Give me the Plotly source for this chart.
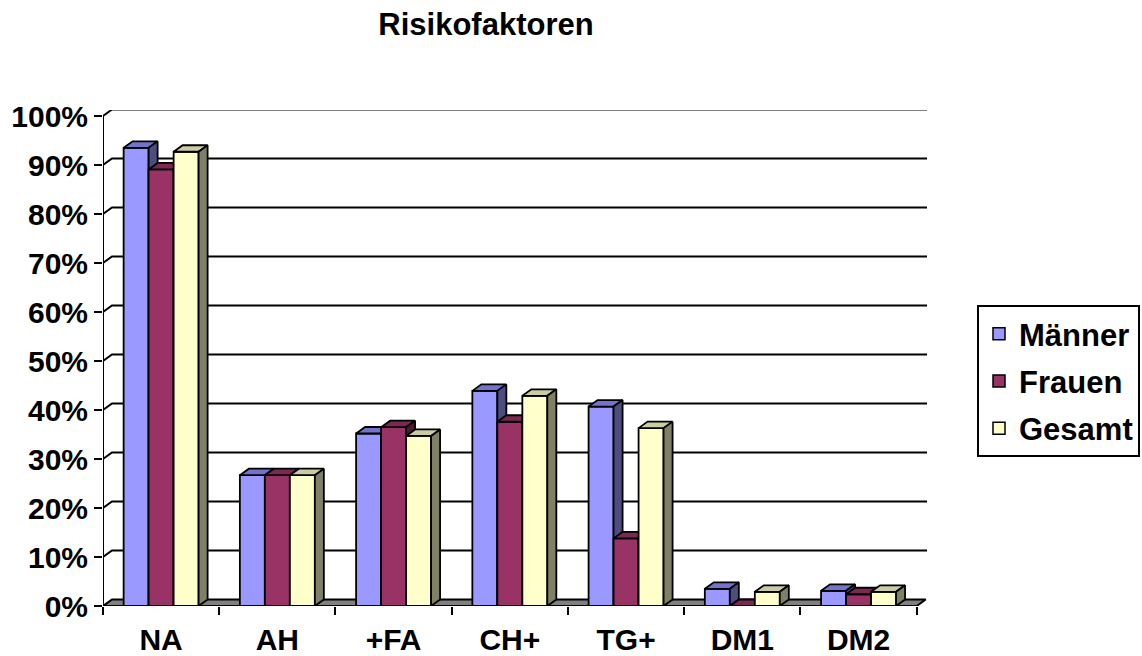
import plotly.graph_objects as go

# ---- data ----
categories = ["NA", "AH", "+FA", "CH+", "TG+", "DM1", "DM2"]
maenner = [93.5, 26.7, 35.2, 43.9, 40.7, 3.5, 3.1]
frauen = [89.1, 26.7, 36.5, 37.6, 13.8, 0.0, 2.4]
gesamt = [92.7, 26.7, 34.7, 42.9, 36.3, 2.9, 2.9]
series_names = ["Männer", "Frauen", "Gesamt"]
y_ticks = list(range(0, 101, 10))
y_tick_labels = [f"{v}%" for v in y_ticks]

# ---- styling / geometry ----
W, H = 1142, 656
ML, MR, MT, MB = 103, 215, 110, 50
plot_w = W - ML - MR
plot_h = H - MT - MB
cat_px = 116.24
px_per_pct = 4.9
x_range = [-0.5, -0.5 + plot_w / cat_px]
y_range = [0, plot_h / px_per_pct]
DX = 9.0 / cat_px      # depth offset in category units
DY = 6.5 / px_per_pct  # depth offset in percent units
BW = 0.215             # bar width in category units

colors = {
    "Männer": ("#9999FF", "#7373CC", "#4D4D80"),
    "Frauen": ("#993366", "#7A2952", "#4D1A33"),
    "Gesamt": ("#FFFFCC", "#CCCCA3", "#808066"),
}
FONT = "Liberation Sans, Arial, sans-serif"


def faces(values, k):
    fx, fy, tx, ty, sx, sy = [], [], [], [], [], []
    for i, v in enumerate(values):
        l = i + (k - 1.5) * BW
        r = l + BW
        fx += [l, l, r, r, l, None]
        fy += [0, v, v, 0, 0, None]
        tx += [l, l + DX, r + DX, r, l, None]
        ty += [v, v + DY, v + DY, v, v, None]
        sx += [r, r + DX, r + DX, r, r, None]
        sy += [0, DY, v + DY, v, 0, None]
    return (fx, fy), (tx, ty), (sx, sy)


fig = go.Figure()

# legend entries
for name in series_names:
    fig.add_trace(go.Bar(
        x=[None], y=[None], name=name, legendgroup=name,
        marker=dict(color=colors[name][0], line=dict(color="black", width=1.5)),
    ))

# back wall gridlines + front y axis line
gx, gy = [], []
for v in y_ticks[1:]:
    gx += [-0.5, -0.5 + DX, x_range[1], None]
    gy += [v, v + DY, v + DY, None]
gx += [-0.5, -0.5, None]
gy += [0, 100, None]
fig.add_trace(go.Scatter(x=gx, y=gy, mode="lines", line=dict(color="black", width=2),
                         showlegend=False, hoverinfo="skip"))

# floor
n = len(categories)
fig.add_trace(go.Scatter(
    x=[-0.5, -0.5 + DX, n - 0.5 + DX, n - 0.5, -0.5],
    y=[0, DY, DY, 0, 0],
    mode="lines", fill="toself", fillcolor="#808080",
    line=dict(color="black", width=2), showlegend=False, hoverinfo="skip"))

# 3D bars
for k, (name, vals) in enumerate(zip(series_names, [maenner, frauen, gesamt])):
    front, top, side = faces(vals, k)
    for (xs, ys), col in zip([front, top, side], colors[name]):
        fig.add_trace(go.Scatter(
            x=xs, y=ys, mode="lines", fill="toself", fillcolor=col,
            line=dict(color="black", width=1.8), showlegend=False,
            hoverinfo="skip", legendgroup=name))

fig.update_layout(
    width=W, height=H,
    margin=dict(l=ML, r=MR, t=MT, b=MB, autoexpand=False),
    paper_bgcolor="white", plot_bgcolor="white",
    font=dict(family=FONT, color="black"),
    title=dict(text="Risikofaktoren", x=486 / W, y=1 - 24 / H,
               xref="container", yref="container", xanchor="center", yanchor="middle",
               font=dict(size=31, weight="bold", family=FONT, color="black")),
    showlegend=True,
    legend=dict(x=(977 - ML) / plot_w, y=(H - MB - 305) / plot_h,
                xanchor="left", yanchor="top", bordercolor="black", borderwidth=2,
                bgcolor="white", traceorder="grouped", tracegroupgap=4,
                font=dict(size=31, weight="bold", family=FONT, color="black")),
    xaxis=dict(range=x_range, tickmode="array", tickvals=list(range(n)), ticktext=categories,
               ticks="", showgrid=False, zeroline=False, showline=False,
               ticklabelstandoff=13,
               tickfont=dict(size=30, weight="bold", family=FONT, color="black"),
               minor=dict(tickmode="array", tickvals=[i - 0.5 for i in range(n + 1)],
                          ticks="outside", ticklen=8, tickwidth=2, tickcolor="black",
                          showgrid=False)),
    yaxis=dict(range=y_range, tickmode="array", tickvals=y_ticks, ticktext=y_tick_labels,
               ticks="outside", ticklen=8, tickwidth=2, tickcolor="black",
               showgrid=False, zeroline=False, showline=False,
               tickfont=dict(size=30, weight="bold", family=FONT, color="black")),
)

fig.write_html("out.html", config={"displayModeBar": False},
               post_script="document.body.style.margin='0';")
